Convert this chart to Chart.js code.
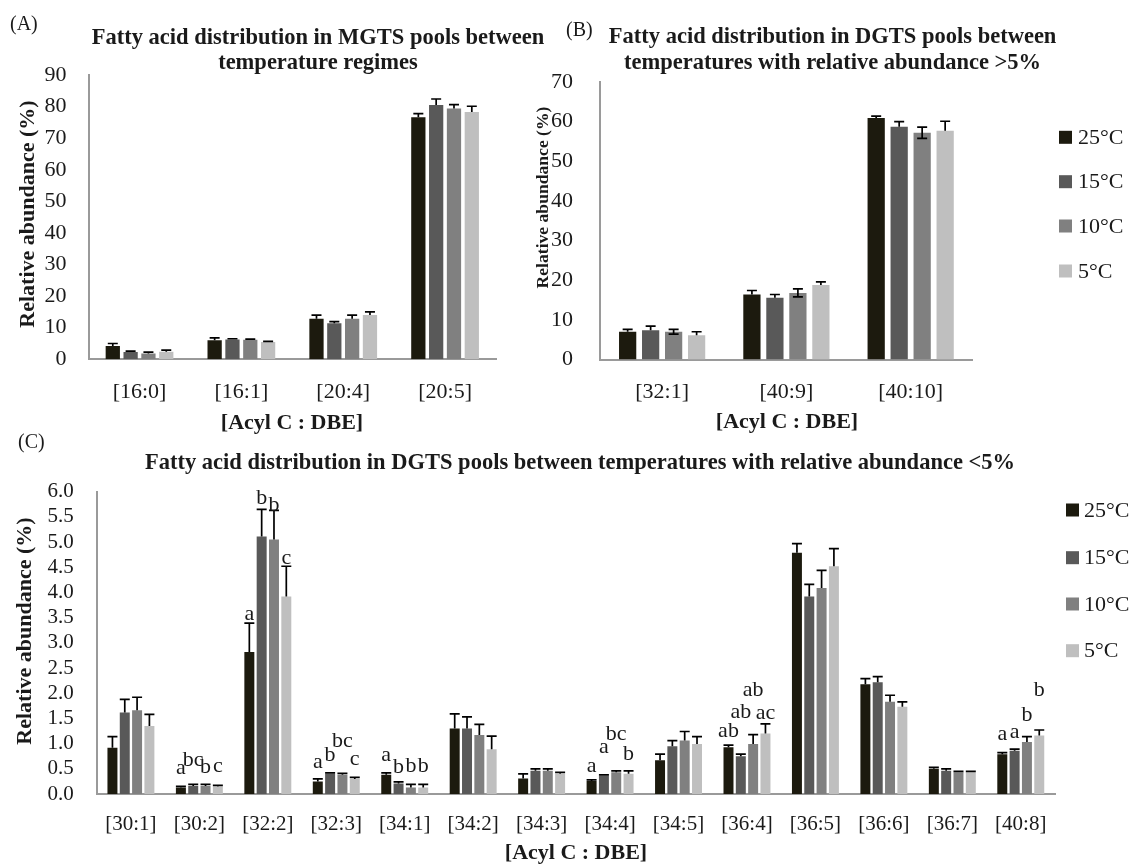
<!DOCTYPE html>
<html>
<head>
<meta charset="utf-8">
<script src="https://cdn.jsdelivr.net/npm/chart.js@4.4.1/dist/chart.umd.min.js"></script>
<style>
  html, body { margin: 0; padding: 0; background: #ffffff; }
  #page { position: relative; width: 1130px; height: 865px; overflow: hidden; background: #ffffff; }
  #page canvas { position: absolute; }
</style>
</head>
<body>
<div id="page">
  <canvas id="chartA"></canvas>
  <canvas id="chartB"></canvas>
  <canvas id="chartC"></canvas>
</div>
<script>
// ---------- data ----------
const temperatures = ['25°C', '15°C', '10°C', '5°C'];

// (A) MGTS fatty acids, relative abundance (%) and SD
const mgtsCategories = ['[16:0]', '[16:1]', '[20:4]', '[20:5]'];
const mgts25 = [4.2, 6.0, 12.8, 76.6];
const mgts15 = [2.3, 6.3, 11.4, 80.5];
const mgts10 = [1.8, 6.2, 12.8, 79.4];
const mgts5  = [2.4, 5.5, 14.0, 78.3];
const mgtsSd25 = [0.8, 0.8, 1.2, 1.2];
const mgtsSd15 = [0.3, 0.2, 0.5, 1.9];
const mgtsSd10 = [0.5, 0.2, 1.2, 1.2];
const mgtsSd5  = [0.5, 0.2, 1.0, 1.8];

// (B) DGTS fatty acids above 5 %
const dgtsMajorCategories = ['[32:1]', '[40:9]', '[40:10]'];
const dgtsMajor25 = [7.0, 16.4, 60.9];
const dgtsMajor15 = [7.4, 15.6, 58.7];
const dgtsMajor10 = [7.0, 16.8, 57.2];
const dgtsMajor5  = [6.1, 18.8, 57.7];
const dgtsMajorSd25 = [0.6, 1.0, 0.5];
const dgtsMajorSd15 = [1.0, 0.8, 1.3];
const dgtsMajorSd10 = [0.6, 1.0, 1.4];
const dgtsMajorSd5  = [0.9, 0.8, 2.4];

// (C) DGTS fatty acids below 5 %
const dgtsMinorCategories = ['[30:1]', '[30:2]', '[32:2]', '[32:3]', '[34:1]', '[34:2]', '[34:3]',
                             '[34:4]', '[34:5]', '[36:4]', '[36:5]', '[36:6]', '[36:7]', '[40:8]'];
const dgtsMinor25 = [0.92, 0.13, 2.82, 0.25, 0.38, 1.30, 0.31, 0.26, 0.67, 0.93, 4.79, 2.18, 0.50, 0.79];
const dgtsMinor15 = [1.62, 0.16, 5.11, 0.40, 0.21, 1.30, 0.46, 0.36, 0.95, 0.75, 3.92, 2.22, 0.46, 0.86];
const dgtsMinor10 = [1.66, 0.16, 5.05, 0.38, 0.13, 1.17, 0.46, 0.43, 1.06, 0.99, 4.09, 1.83, 0.43, 1.03];
const dgtsMinor5  = [1.35, 0.15, 3.92, 0.30, 0.13, 0.89, 0.40, 0.40, 0.99, 1.20, 4.52, 1.73, 0.43, 1.16];
const dgtsMinorSd25 = [0.22, 0.02, 0.57, 0.05, 0.04, 0.29, 0.09, 0.02, 0.12, 0.04, 0.18, 0.11, 0.03, 0.03];
const dgtsMinorSd15 = [0.26, 0.03, 0.54, 0.02, 0.03, 0.23, 0.04, 0.02, 0.11, 0.04, 0.24, 0.11, 0.04, 0.03];
const dgtsMinorSd10 = [0.26, 0.03, 0.58, 0.03, 0.06, 0.21, 0.04, 0.03, 0.18, 0.19, 0.35, 0.13, 0.02, 0.11];
const dgtsMinorSd5  = [0.23, 0.02, 0.60, 0.03, 0.06, 0.26, 0.03, 0.06, 0.15, 0.19, 0.35, 0.10, 0.02, 0.11];

// significance letters (category index -> letters for 25, 15, 10, 5 °C)
const dgtsMinorLetters = {
  1:  ['a', 'bc', 'b', 'c'],
  2:  ['a', 'b', 'b', 'c'],
  3:  ['a', 'b', 'bc', 'c'],
  4:  ['a', 'b', 'b', 'b'],
  7:  ['a', 'a', 'bc', 'b'],
  9:  ['ab', 'ab', 'ab', 'ac'],
  13: ['a', 'a', 'b', 'b']
};

// y-axis ranges and tick steps
const mgtsAxis = [0, 90, 10];
const dgtsMajorAxis = [0, 70, 10];
const dgtsMinorAxis = [0, 6, 0.5];

// ---------- styling and layout ----------
const SERIF = '"Liberation Serif", "Times New Roman", serif';
const TEXT = '#1a1a1a';
const AXIS_LINE = '#9a9a9a';
const SERIES_COLORS = ['#1c1a0e', '#595959', '#808080', '#bfbfbf'];

// extra lift (px) of each letter above its error cap, same keys as the letters
const letterLift = {
  1:  [9, 15, 8, 10],
  2:  [0, 2, -4, -1],
  3:  [8, 9, 23, 9],
  4:  [9, 6, 9, 9],
  7:  [5, 19, 28, 8],
  9:  [5, 33, 35, 2],
  13: [9, 8, 12, 31]
};

// ---------- plugin: error bars, letters, titles, legend ----------
const panelPlugin = {
  id: 'panel',
  afterDatasetsDraw(chart, args, opts) {
    const ctx = chart.ctx;
    const ys = chart.scales.y;
    chart.data.datasets.forEach((ds, di) => {
      const meta = chart.getDatasetMeta(di);
      meta.data.forEach((bar, i) => {
        const v = ds.data[i], e = ds.errors[i];
        const yTop = ys.getPixelForValue(v + e);
        const yBase = ys.getPixelForValue(ds.errBoth ? v - e : v);
        ctx.save();
        ctx.strokeStyle = '#000';
        ctx.lineWidth = 1.7;
        ctx.beginPath();
        ctx.moveTo(bar.x, yBase); ctx.lineTo(bar.x, yTop);
        ctx.moveTo(bar.x - 5, yTop); ctx.lineTo(bar.x + 5, yTop);
        if (ds.errBoth) { ctx.moveTo(bar.x - 5, yBase); ctx.lineTo(bar.x + 5, yBase); }
        ctx.stroke();
        ctx.restore();
      });
    });
    if (opts.letters) {
      ctx.save();
      ctx.font = '22px ' + SERIF;
      ctx.fillStyle = TEXT;
      ctx.textAlign = 'center';
      ctx.textBaseline = 'middle';
      Object.keys(opts.letters).forEach(k => {
        const idx = +k;
        opts.letters[k].forEach((txt, di) => {
          const ds = chart.data.datasets[di];
          const bar = chart.getDatasetMeta(di).data[idx];
          const capY = ys.getPixelForValue(ds.data[idx] + ds.errors[idx]);
          ctx.fillText(txt, bar.x, capY - 9 - opts.lifts[k][di]);
        });
      });
      ctx.restore();
    }
  },
  afterDraw(chart, args, opts) {
    const ctx = chart.ctx;
    const [ox, oy] = opts.origin;
    (opts.texts || []).forEach(t => {
      ctx.save();
      ctx.font = t.font;
      ctx.fillStyle = TEXT;
      ctx.textAlign = t.align || 'center';
      ctx.textBaseline = 'middle';
      ctx.translate(t.x - ox, t.y - oy);
      if (t.rotate) ctx.rotate(t.rotate);
      ctx.fillText(t.text, 0, 0);
      ctx.restore();
    });
    if (opts.legend) {
      const lg = opts.legend;
      ctx.save();
      ctx.font = '22px ' + SERIF;
      ctx.textBaseline = 'middle';
      ctx.textAlign = 'left';
      chart.data.datasets.forEach((ds, i) => {
        const cy = lg.ys[i] - oy;
        ctx.fillStyle = ds.backgroundColor;
        ctx.fillRect(lg.x - ox, cy - lg.box / 2, lg.box, lg.box);
        ctx.fillStyle = TEXT;
        ctx.fillText(ds.label, lg.textX - ox, cy + 1);
      });
      ctx.restore();
    }
  }
};

function makeChart(id, cfg) {
  const cv = document.getElementById(id);
  const [ox, oy] = cfg.origin;
  const [w, h] = cfg.size;
  cv.width = w; cv.height = h;
  cv.style.left = ox + 'px'; cv.style.top = oy + 'px';
  cv.style.width = w + 'px'; cv.style.height = h + 'px';
  const a = cfg.area;
  const yWidth = a.left - ox;
  const xHeight = h - (a.bottom - oy);
  const datasets = cfg.series.map((vals, i) => ({
    label: temperatures[i],
    data: vals,
    errors: cfg.errors[i],
    errBoth: !!(cfg.errBoth && cfg.errBoth[i]),
    backgroundColor: SERIES_COLORS[i],
    borderWidth: 0,
    categoryPercentage: cfg.catPct,
    barPercentage: cfg.barPct
  }));
  return new Chart(cv, {
    type: 'bar',
    data: { labels: cfg.categories, datasets },
    options: {
      responsive: false,
      animation: false,
      devicePixelRatio: 1,
      layout: { padding: { left: 0, top: a.top - oy, right: w - (a.right - ox), bottom: 0 } },
      plugins: {
        legend: { display: false },
        title: { display: false },
        tooltip: { enabled: false },
        panel: {
          origin: cfg.origin,
          texts: cfg.texts,
          legend: cfg.legend,
          letters: cfg.letters,
          lifts: cfg.lifts
        }
      },
      scales: {
        x: {
          grid: { display: false, drawTicks: false },
          border: { display: true, color: AXIS_LINE, width: 2 },
          ticks: {
            font: { family: SERIF, size: cfg.tickSize },
            color: TEXT,
            padding: cfg.xTickPad,
            autoSkip: false,
            maxRotation: 0
          },
          afterFit: s => { s.height = xHeight; }
        },
        y: {
          min: cfg.axis[0], max: cfg.axis[1],
          grid: { display: false, drawTicks: false },
          border: { display: true, color: AXIS_LINE, width: 2 },
          ticks: {
            stepSize: cfg.axis[2],
            autoSkip: false,
            font: { family: SERIF, size: cfg.tickSize },
            color: TEXT,
            padding: cfg.yTickPad,
            callback: v => cfg.decimals ? Number(v).toFixed(cfg.decimals) : v
          },
          afterFit: s => { s.width = yWidth; }
        }
      }
    },
    plugins: [panelPlugin]
  });
}

const TITLE_FONT = 'bold 22.5px ' + SERIF;
const AXIS_TITLE_FONT = 'bold 22px ' + SERIF;
const PANEL_FONT = '20px ' + SERIF;

makeChart('chartA', {
  origin: [0, 0], size: [560, 440],
  area: { left: 88.6, top: 75, right: 496, bottom: 359.3 },
  categories: mgtsCategories,
  series: [mgts25, mgts15, mgts10, mgts5],
  errors: [mgtsSd25, mgtsSd15, mgtsSd10, mgtsSd5],
  axis: mgtsAxis, decimals: 0,
  catPct: 0.70, barPct: 0.80,
  tickSize: 22, xTickPad: 20, yTickPad: 22,
  texts: [
    { text: '(A)', x: 10, y: 25, font: PANEL_FONT, align: 'left' },
    { text: 'Fatty acid distribution in MGTS pools between', x: 318, y: 38, font: TITLE_FONT },
    { text: 'temperature regimes', x: 318, y: 63, font: TITLE_FONT },
    { text: 'Relative abundance (%)', x: 28.6, y: 214, font: AXIS_TITLE_FONT, rotate: -Math.PI / 2 },
    { text: '[Acyl C : DBE]', x: 292, y: 423, font: AXIS_TITLE_FONT }
  ]
});

makeChart('chartB', {
  origin: [520, 0], size: [610, 440],
  area: { left: 600, top: 82, right: 972.8, bottom: 359.5 },
  categories: dgtsMajorCategories,
  series: [dgtsMajor25, dgtsMajor15, dgtsMajor10, dgtsMajor5],
  errors: [dgtsMajorSd25, dgtsMajorSd15, dgtsMajorSd10, dgtsMajorSd5],
  errBoth: [false, false, true, false],
  axis: dgtsMajorAxis, decimals: 0,
  catPct: 0.74, barPct: 0.75,
  tickSize: 22, xTickPad: 20, yTickPad: 27,
  texts: [
    { text: '(B)', x: 566, y: 31, font: PANEL_FONT, align: 'left' },
    { text: 'Fatty acid distribution in DGTS pools between', x: 832.6, y: 37, font: TITLE_FONT },
    { text: 'temperatures with relative abundance >5%', x: 832.6, y: 63, font: TITLE_FONT },
    { text: 'Relative abundance (%)', x: 543, y: 197.5, font: 'bold 17.6px ' + SERIF, rotate: -Math.PI / 2 },
    { text: '[Acyl C : DBE]', x: 787, y: 422, font: AXIS_TITLE_FONT }
  ],
  legend: { x: 1059, textX: 1078, box: 13, ys: [137.3, 181.7, 226, 271] }
});

makeChart('chartC', {
  origin: [0, 430], size: [1130, 435],
  area: { left: 96.7, top: 491.7, right: 1055, bottom: 794 },
  categories: dgtsMinorCategories,
  series: [dgtsMinor25, dgtsMinor15, dgtsMinor10, dgtsMinor5],
  errors: [dgtsMinorSd25, dgtsMinorSd15, dgtsMinorSd10, dgtsMinorSd5],
  axis: dgtsMinorAxis, decimals: 1,
  catPct: 0.72, barPct: 0.81,
  tickSize: 21, xTickPad: 18, yTickPad: 23,
  texts: [
    { text: '(C)', x: 18, y: 443, font: PANEL_FONT, align: 'left' },
    { text: 'Fatty acid distribution in DGTS pools between temperatures with relative abundance <5%', x: 580, y: 463, font: TITLE_FONT },
    { text: 'Relative abundance (%)', x: 25, y: 631, font: AXIS_TITLE_FONT, rotate: -Math.PI / 2 },
    { text: '[Acyl C : DBE]', x: 576, y: 853, font: AXIS_TITLE_FONT }
  ],
  legend: { x: 1066, textX: 1084, box: 13, ys: [510, 557.7, 604, 650.7] },
  letters: dgtsMinorLetters,
  lifts: letterLift
});
</script>
</body>
</html>
